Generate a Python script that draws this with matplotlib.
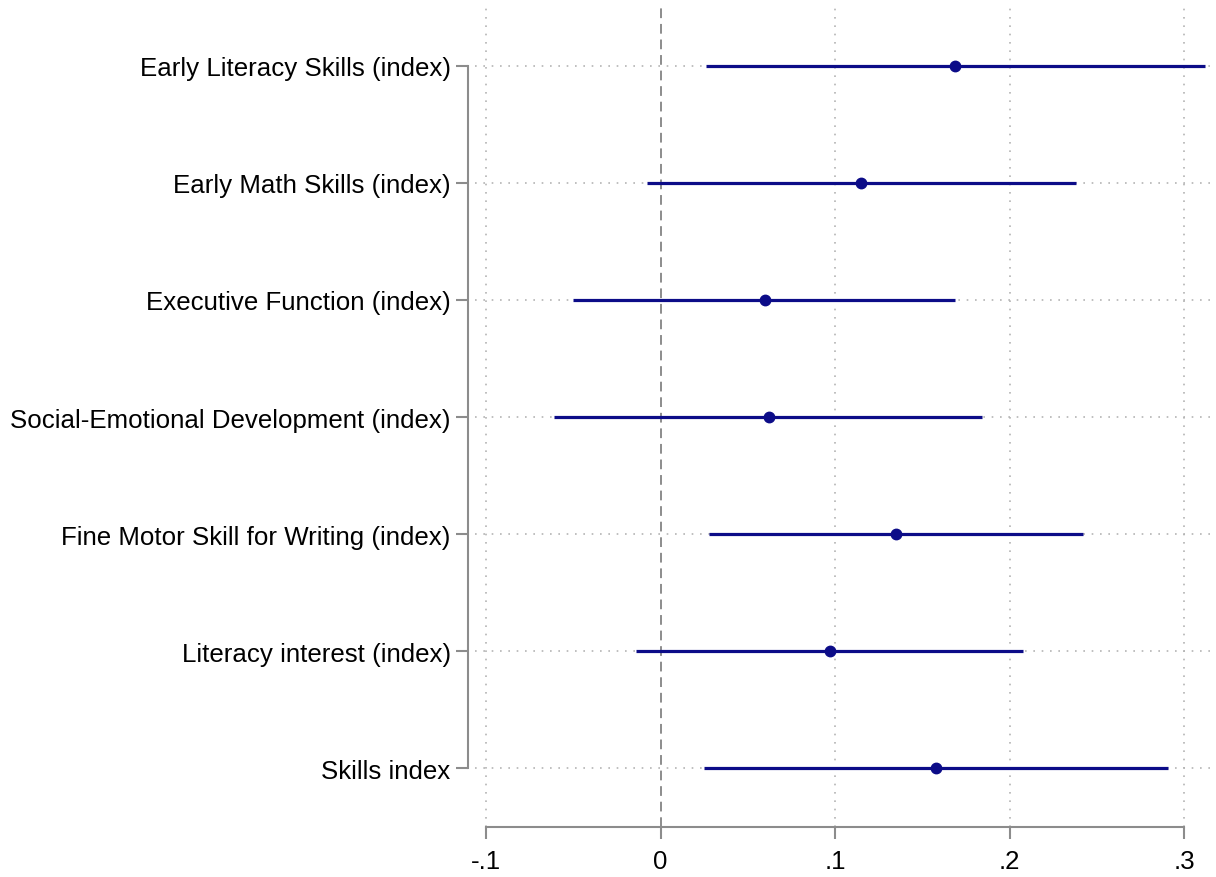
import matplotlib
matplotlib.use("Agg")
import matplotlib.pyplot as plt

categories = [
    "Early Literacy Skills (index)",
    "Early Math Skills (index)",
    "Executive Function (index)",
    "Social-Emotional Development (index)",
    "Fine Motor Skill for Writing (index)",
    "Literacy interest (index)",
    "Skills index",
]
estimates = [0.169, 0.115, 0.060, 0.062, 0.135, 0.097, 0.158]
ci_low = [0.026, -0.008, -0.050, -0.061, 0.028, -0.014, 0.025]
ci_high = [0.312, 0.238, 0.169, 0.184, 0.242, 0.208, 0.291]
xticks = [-0.1, 0, 0.1, 0.2, 0.3]
xticklabels = ["-.1", "0", ".1", ".2", ".3"]

plt.rcParams['font.family'] = ['Liberation Sans', 'DejaVu Sans']

W, H = 1216, 878
fig = plt.figure(figsize=(W / 100, H / 100), dpi=100)
left, right, top, bottom = 468, 1213, 8, 828
ax = fig.add_axes([left / W, 1 - bottom / H, (right - left) / W, (bottom - top) / H])

navy = '#0c0c88'
grey = '#8c8c8c'
ypos = list(range(len(categories)))

# gridlines
for xv in xticks:
    if xv != 0:
        ax.axvline(xv, color='#b4b4b4', lw=1.2, ls=(0, (1, 4)), zorder=0)
for y in ypos:
    ax.axhline(y, xmin=0.01, color='#b4b4b4', lw=1.2, ls=(0, (1, 4)), zorder=0)
ax.axvline(0, color='#8c8c8c', lw=1.4, ls=(0, (5, 3)), zorder=1)

for y, e, lo, hi in zip(ypos, estimates, ci_low, ci_high):
    ax.plot([lo, hi], [y, y], color=navy, lw=2.3, solid_capstyle='butt', zorder=3)
ax.plot(estimates, ypos, 'o', color=navy, ms=7.5, zorder=4)

ax.set_xlim((left - 660.5) / 1745, (right - 660.5) / 1745)
ax.set_ylim(6.504, -0.504)

ax.set_yticks(ypos)
ax.set_yticklabels(categories, fontsize=18.6)
ax.set_xticks(xticks)
ax.set_xticklabels(xticklabels, fontsize=18.6)

for s in ['top', 'right']:
    ax.spines[s].set_visible(False)
ax.spines['left'].set_bounds(0, 6)
ax.spines['bottom'].set_bounds(-0.1, 0.3)
for s in ['left', 'bottom']:
    ax.spines[s].set_color(grey)
    ax.spines[s].set_linewidth(1.5)
ax.tick_params(axis='both', color=grey, width=1.5, length=8.5, labelcolor='black')
ax.tick_params(axis='y', pad=4)
ax.tick_params(axis='x', pad=7)

fig.savefig("out.png", dpi=100)
